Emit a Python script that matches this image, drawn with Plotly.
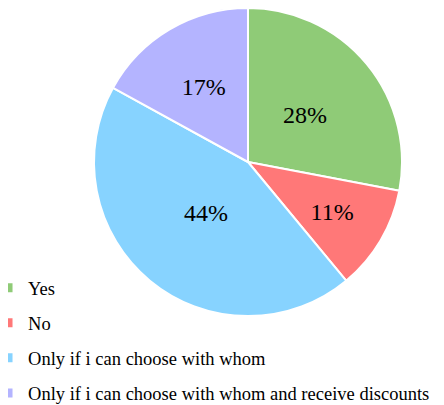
import plotly.graph_objects as go

labels = ["Yes", "No", "Only if i can choose with whom",
          "Only if i can choose with whom and receive discounts"]
values = [28, 11, 44, 17]
colors = ["#8fcb77", "#ff7878", "#87d3ff", "#b4b4ff"]

FONT = "Times New Roman, Liberation Serif, DejaVu Serif, serif"
W, H = 444, 405
# page body has an 8px margin, so place things 8px up/left
CX, CY, R = 248 - 8, 162 - 8, 154


def pie_domain(r):
    return dict(x=[(CX - r) / W, (CX + r) / W],
                y=[(H - CY - r) / H, min(1, (H - CY + r) / H)])


fig = go.Figure()

fig.add_trace(go.Pie(
    labels=labels,
    values=values,
    sort=False,
    direction="clockwise",
    rotation=0,
    marker=dict(colors=colors, line=dict(color="white", width=2)),
    textinfo="none",
    showlegend=False,
    hoverinfo="label+percent",
    domain=pie_domain(R),
))

# smaller transparent pie on top, only to pull the percent labels inward
fig.add_trace(go.Pie(
    labels=labels,
    values=values,
    sort=False,
    direction="clockwise",
    rotation=0,
    marker=dict(colors=["rgba(0,0,0,0)"] * len(values),
                line=dict(width=0)),
    textinfo="percent",
    textposition="inside",
    insidetextorientation="horizontal",
    textfont=dict(family=FONT, size=24, color="black"),
    showlegend=False,
    hoverinfo="skip",
    domain=pie_domain(R * 0.85),
))

# legend entries as dummy traces so the rows can be spaced apart
for i, (lab, col) in enumerate(zip(labels, colors)):
    fig.add_trace(go.Scatter(
        x=[None], y=[None],
        mode="markers",
        name=lab,
        legendgroup=str(i),
        marker=dict(symbol="square", size=9, color=col),
        hoverinfo="skip",
    ))

fig.update_layout(
    width=W,
    height=H,
    margin=dict(l=0, r=0, t=0, b=0, autoexpand=False),
    paper_bgcolor="white",
    plot_bgcolor="white",
    xaxis=dict(visible=False),
    yaxis=dict(visible=False),
    font=dict(family=FONT, size=18.5, color="black"),
    uniformtext=dict(minsize=24, mode="show"),
    legend=dict(
        x=-0.045, y=0.355,
        xanchor="left", yanchor="top",
        orientation="v",
        tracegroupgap=8,
        itemwidth=30,
        bgcolor="rgba(0,0,0,0)",
    ),
)

fig.write_html("out.html")
